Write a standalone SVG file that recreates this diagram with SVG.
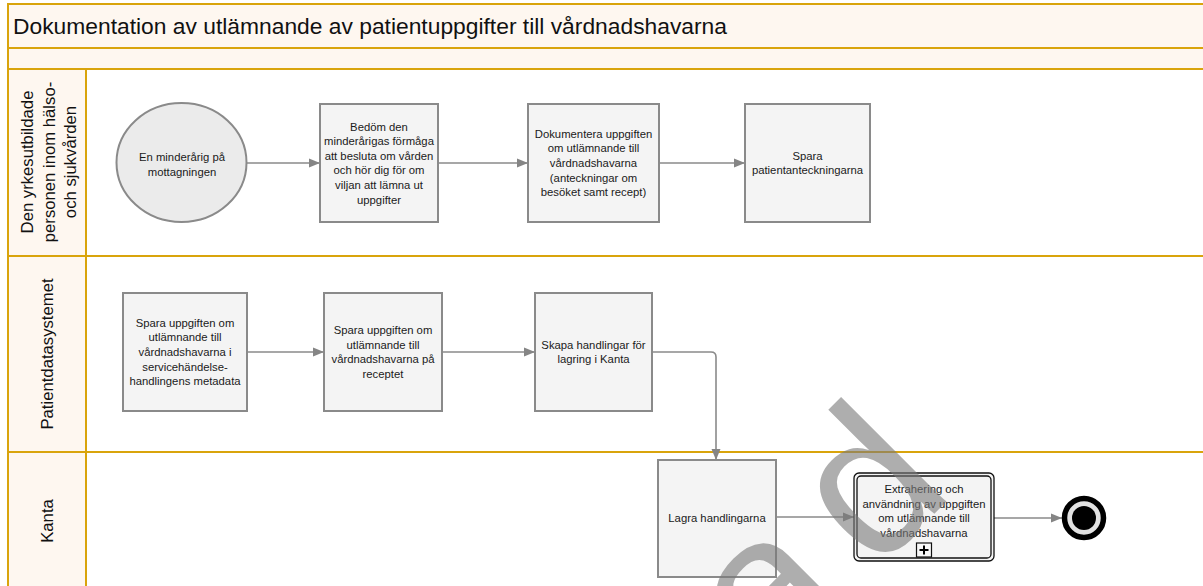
<svg xmlns="http://www.w3.org/2000/svg" width="1203" height="586" viewBox="0 0 1203 586">
<defs>
<marker id="arr" markerUnits="userSpaceOnUse" markerWidth="12" markerHeight="12" refX="11" refY="5" orient="auto">
<path d="M0,0.5 L11,5 L0,9.5 Z" fill="#858585"/>
</marker>
<style>
.band{fill:#fef7f0;stroke:#d9a40c;stroke-width:2}
.body{fill:#ffffff;stroke:#d9a40c;stroke-width:2}
.lane{font-family:"Liberation Sans",Arial,sans-serif;font-size:16.7px;fill:#111;text-anchor:middle}
.title{font-family:"Liberation Sans",Arial,sans-serif;font-size:22px;fill:#111}
.task{fill:#f4f4f4;stroke:#8a8a8a;stroke-width:2}
.t{font-family:"Liberation Sans",Arial,sans-serif;font-size:11.3px;fill:#1a1a1a;text-anchor:middle}
.conn{fill:none;stroke:#8a8a8a;stroke-width:1.6;marker-end:url(#arr)}
</style>
</defs>

<g id="pool">
<rect class="band" x="8" y="4" width="1200" height="44"/>
<rect class="band" x="8" y="48" width="1200" height="21"/>
<text class="title" x="13" y="34" textLength="714" lengthAdjust="spacingAndGlyphs">Dokumentation av utlämnande av patientuppgifter till vårdnadshavarna</text>
</g>

<g id="lane1">
<rect class="body" x="86" y="69" width="1122" height="187"/>
<rect class="band" x="8" y="69" width="78" height="187"/>
<text class="lane" transform="translate(33,162) rotate(-90)">Den yrkesutbildade</text>
<text class="lane" transform="translate(54.5,162) rotate(-90)">personen inom hälso-</text>
<text class="lane" transform="translate(76,162) rotate(-90)">och sjukvården</text>
</g>
<g id="lane2">
<rect class="body" x="86" y="256" width="1122" height="196"/>
<rect class="band" x="8" y="256" width="78" height="196"/>
<text class="lane" transform="translate(52.5,354) rotate(-90)">Patientdatasystemet</text>
</g>
<g id="lane3">
<rect class="body" x="86" y="452" width="1122" height="140"/>
<rect class="band" x="8" y="452" width="78" height="140"/>
<text class="lane" transform="translate(52.5,521) rotate(-90)">Kanta</text>
</g>

<g id="connectors">
<path class="conn" d="M247,163 H320"/>
<path class="conn" d="M438,163 H528"/>
<path class="conn" d="M659,163 H745"/>
<path class="conn" d="M247,352 H324"/>
<path class="conn" d="M442,352 H535"/>
<path class="conn" d="M652,352 H711 Q716,352 716,357 V460"/>
<path class="conn" d="M776,517 H854"/>
<path class="conn" d="M994,518 H1062"/>
</g>

<g id="start">
<ellipse cx="181.5" cy="162.5" rx="65" ry="59.5" fill="#ebebeb" stroke="#8a8a8a" stroke-width="2"/>
<text class="t" x="182" y="161">En minderårig på</text>
<text class="t" x="182" y="175.5">mottagningen</text>
</g>

<g id="bedom">
<rect class="task" x="320" y="104" width="118" height="118"/>
<text class="t" x="379" y="130.5">Bedöm den</text>
<text class="t" x="379" y="145.1">minderårigas förmåga</text>
<text class="t" x="379" y="159.7">att besluta om vården</text>
<text class="t" x="379" y="174.3">och hör dig för om</text>
<text class="t" x="379" y="188.9">viljan att lämna ut</text>
<text class="t" x="379" y="203.5">uppgifter</text>
</g>

<g id="dokumentera">
<rect class="task" x="528" y="104" width="131" height="118"/>
<text class="t" x="593.5" y="137.8">Dokumentera uppgiften</text>
<text class="t" x="593.5" y="152.4">om utlämnande till</text>
<text class="t" x="593.5" y="167">vårdnadshavarna</text>
<text class="t" x="593.5" y="181.6">(anteckningar om</text>
<text class="t" x="593.5" y="196.2">besöket samt recept)</text>
</g>

<g id="spara-anteckningar">
<rect class="task" x="745" y="104" width="125" height="118"/>
<text class="t" x="807.5" y="159.7">Spara</text>
<text class="t" x="807.5" y="174.3">patientanteckningarna</text>
</g>

<g id="spara-metadata">
<rect class="task" x="123" y="293" width="124" height="118"/>
<text class="t" x="185" y="326.8">Spara uppgiften om</text>
<text class="t" x="185" y="341.4">utlämnande till</text>
<text class="t" x="185" y="356">vårdnadshavarna i</text>
<text class="t" x="185" y="370.6">servicehändelse-</text>
<text class="t" x="185" y="385.2">handlingens metadata</text>
</g>

<g id="spara-recept">
<rect class="task" x="324" y="293" width="118" height="118"/>
<text class="t" x="383" y="334.1">Spara uppgiften om</text>
<text class="t" x="383" y="348.7">utlämnande till</text>
<text class="t" x="383" y="363.3">vårdnadshavarna på</text>
<text class="t" x="383" y="377.9">receptet</text>
</g>

<g id="skapa">
<rect class="task" x="535" y="293" width="117" height="118"/>
<text class="t" x="593.5" y="348.7">Skapa handlingar för</text>
<text class="t" x="593.5" y="363.3">lagring i Kanta</text>
</g>

<g id="lagra">
<rect class="task" x="658" y="460" width="118" height="117"/>
<text class="t" x="717" y="522">Lagra handlingarna</text>
</g>

<g id="extrahering">
<rect x="854" y="473" width="140" height="88" rx="5" fill="#f4f4f4" stroke="#111" stroke-width="1.3"/>
<rect x="857" y="476" width="134" height="82" rx="4" fill="none" stroke="#111" stroke-width="1.3"/>
<text class="t" x="924" y="493">Extrahering och</text>
<text class="t" x="924" y="507.6">användning av uppgiften</text>
<text class="t" x="924" y="522.2">om utlämnande till</text>
<text class="t" x="924" y="536.8">vårdnadshavarna</text>
<rect x="916.5" y="543" width="15" height="14" fill="#f8f8f8" stroke="#111" stroke-width="1.2"/>
<path d="M919.5,550 H928.5 M924,545.5 V554.5" stroke="#000" stroke-width="2"/>
</g>

<g id="end">
<circle cx="1084" cy="518" r="19.5" fill="#e2e2e2" stroke="#000" stroke-width="5.5"/>
<circle cx="1084" cy="518" r="12" fill="#000"/>
</g>

<g id="watermark" opacity="0.6">
<text transform="translate(771.3,676.7) rotate(-45)" font-family="'Liberation Sans',Arial,sans-serif" font-size="205" fill="#7a7a7a">a<tspan dx="33">d</tspan></text>
</g>
</svg>
